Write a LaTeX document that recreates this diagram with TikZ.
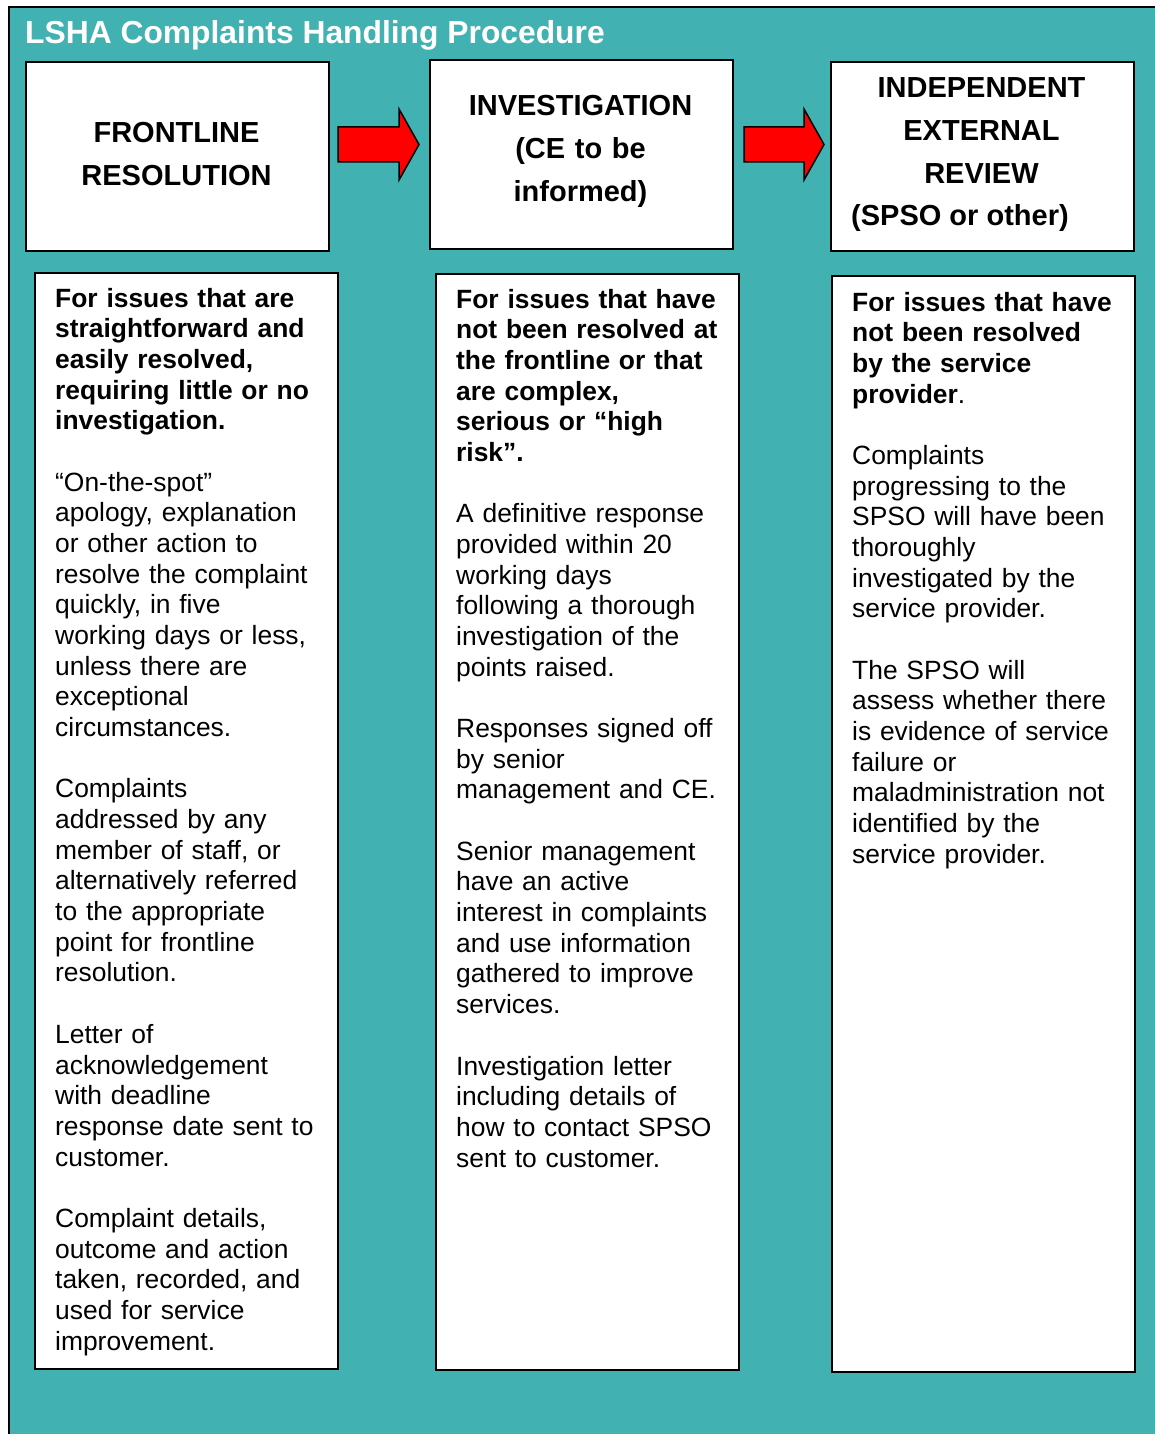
\documentclass[tikz,border=0pt]{standalone}
\usepackage{fontspec}
\setmainfont{Liberation Sans}
\usetikzlibrary{calc}
\definecolor{panel}{RGB}{66,177,178}
\definecolor{arrowred}{RGB}{255,0,0}

% block arrow from a tail coordinate (#1) to a tip coordinate (#2)
\newcommand{\blockarrow}[2]{%
  \draw[flowarrow]
    ($(#1)+(0,-17.5)$) -- ($(#2)+(-20,-17.5)$) -- ($(#2)+(-20,-35.5)$) --
    (#2) --
    ($(#2)+(-20,35.5)$) -- ($(#2)+(-20,17.5)$) -- ($(#1)+(0,17.5)$) -- cycle;}

\begin{document}
\begin{tikzpicture}[x=1pt,y=-1pt,
  stagebox/.style={draw=black, line width=2pt, fill=white, inner sep=0pt,
    anchor=north west, minimum width=303pt},
  headtext/.style={anchor=base, inner sep=0pt, text width=300pt, align=center,
    font=\fontsize{29}{42.6}\selectfont\bfseries},
  bodytext/.style={anchor=base west, inner sep=0pt, text width=300pt, align=left,
    font=\fontsize{26.4}{30.68}\selectfont},
  flowarrow/.style={draw=black, line width=1.5pt, fill=arrowred, line join=miter}]

\useasboundingbox (0,0) rectangle (1155,1434);

% panel background and its frame
\fill[panel] (8,6) rectangle (1155,1434);
\draw[line width=2pt] (9,1434) -- (9,7) -- (1155,7);

\node[anchor=base west, inner sep=0pt, text=white,
  font=\fontsize{31.8}{38}\selectfont\bfseries] (title) at (25,43.5)
  {LSHA Complaints Handling Procedure};

% stage headers
\node[stagebox, minimum height=189pt] (front) at (25,61) {};
\node[stagebox, minimum height=189pt] (invest) at (429,59) {};
\node[stagebox, minimum height=189pt] (review) at (830,61) {};

\node[headtext] (frontlabel) at (176.5,142.5) {FRONTLINE\\RESOLUTION};
\node[headtext] (investlabel) at (580.5,116) {INVESTIGATION\\(CE to be\\informed)};
\node[headtext] (reviewlabel) at (981.5,98) {INDEPENDENT\\EXTERNAL\\REVIEW};
\node[anchor=base west, inner sep=0pt, font=\fontsize{29}{42.6}\selectfont\bfseries]
  (reviewnote) at (851,225) {(SPSO or other)};

% arrows between the stages
\coordinate (a1tail) at (338,144.5);
\coordinate (a1tip) at (419,144.5);
\coordinate (a2tail) at (744,144.5);
\coordinate (a2tip) at (824,144.5);
\blockarrow{a1tail}{a1tip}
\blockarrow{a2tail}{a2tip}

% stage descriptions
\node[stagebox, minimum height=1096pt] (frontbox) at (34,272) {};
\node[stagebox, minimum height=1096pt] (investbox) at (435,273) {};
\node[stagebox, minimum height=1096pt] (reviewbox) at (831,275) {};

\node[bodytext] (fronttext) at (55,307) {%
\textbf{For issues that are}\\
\textbf{straightforward and}\\
\textbf{easily resolved,}\\
\textbf{requiring little or no}\\
\textbf{investigation.}\\[30.68pt]
“On-the-spot”\\
apology, explanation\\
or other action to\\
resolve the complaint\\
quickly, in five\\
working days or less,\\
unless there are\\
exceptional\\
circumstances.\\[30.68pt]
Complaints\\
addressed by any\\
member of staff, or\\
alternatively referred\\
to the appropriate\\
point for frontline\\
resolution.\\[30.68pt]
Letter of\\
acknowledgement\\
with deadline\\
response date sent to\\
customer.\\[30.68pt]
Complaint details,\\
outcome and action\\
taken, recorded, and\\
used for service\\
improvement.};

\node[bodytext] (investtext) at (456,308) {%
\textbf{For issues that have}\\
\textbf{not been resolved at}\\
\textbf{the frontline or that}\\
\textbf{are complex,}\\
\textbf{serious or “high}\\
\textbf{risk”.}\\[30.68pt]
A definitive response\\
provided within 20\\
working days\\
following a thorough\\
investigation of the\\
points raised.\\[30.68pt]
Responses signed off\\
by senior\\
management and CE.\\[30.68pt]
Senior management\\
have an active\\
interest in complaints\\
and use information\\
gathered to improve\\
services.\\[30.68pt]
Investigation letter\\
including details of\\
how to contact SPSO\\
sent to customer.};

\node[bodytext] (reviewtext) at (852,311) {%
\textbf{For issues that have}\\
\textbf{not been resolved}\\
\textbf{by the service}\\
\textbf{provider}.\\[30.68pt]
Complaints\\
progressing to the\\
SPSO will have been\\
thoroughly\\
investigated by the\\
service provider.\\[30.68pt]
The SPSO will\\
assess whether there\\
is evidence of service\\
failure or\\
maladministration not\\
identified by the\\
service provider.};

\end{tikzpicture}
\end{document}
